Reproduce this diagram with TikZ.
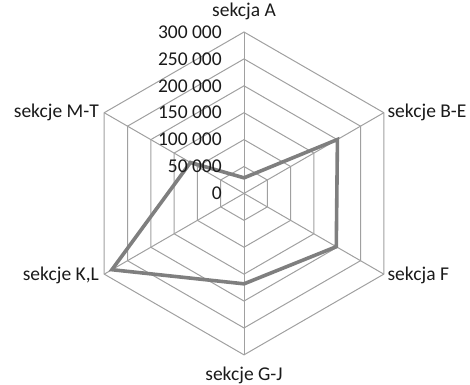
\documentclass[tikz,border=0pt]{standalone}
\usepackage{fontspec}
\setmainfont{Carlito}
\definecolor{gridgray}{HTML}{A0A0A0}
\definecolor{seriesgray}{HTML}{7F7F7F}
\definecolor{labeltext}{HTML}{1A1A1A}

\begin{document}
\begin{tikzpicture}[x=26.9pt,y=26.9pt,
  grid/.style={draw=gridgray,line width=1pt},
  series/.style={draw=seriesgray,line width=3.6pt,line join=miter},
  lbl/.style={font=\fontsize{19.5}{22}\selectfont,text=labeltext,inner sep=0pt}]
\useasboundingbox (-9.07,-7.12) rectangle (8.40,7.19);

% rings
\draw[grid] (90:1)--(30:1)--(-30:1)--(-90:1)--(210:1)--(150:1)--cycle;
\draw[grid] (90:2)--(30:2)--(-30:2)--(-90:2)--(210:2)--(150:2)--cycle;
\draw[grid] (90:3)--(30:3)--(-30:3)--(-90:3)--(210:3)--(150:3)--cycle;
\draw[grid] (90:4)--(30:4)--(-30:4)--(-90:4)--(210:4)--(150:4)--cycle;
\draw[grid] (90:5)--(30:5)--(-30:5)--(-90:5)--(210:5)--(150:5)--cycle;
\draw[grid] (90:6)--(30:6)--(-30:6)--(-90:6)--(210:6)--(150:6)--cycle;

% spokes
\coordinate (O) at (0,0);
\draw[grid] (O)--(90:6);
\draw[grid] (O)--(30:6);
\draw[grid] (O)--(-30:6);
\draw[grid] (O)--(-90:6);
\draw[grid] (O)--(210:6);
\draw[grid] (O)--(150:6);

% data
\coordinate (pA) at (90:0.58);
\coordinate (pBE) at (30:4.01);
\coordinate (pF) at (-30:3.96);
\coordinate (pGJ) at (-90:3.36);
\coordinate (pKL) at (210:5.67);
\coordinate (pMT) at (150:2.3);
\draw[series] (pA)--(pBE)--(pF)--(pGJ)--(pKL)--(pMT)--cycle;

% value axis
\node[lbl,anchor=east] (v0) at (-0.82,0) {0};
\node[lbl,anchor=east] (v50) at (-0.82,1) {50 000};
\node[lbl,anchor=east] (v100) at (-0.82,2) {100 000};
\node[lbl,anchor=east] (v150) at (-0.82,3) {150 000};
\node[lbl,anchor=east] (v200) at (-0.82,4) {200 000};
\node[lbl,anchor=east] (v250) at (-0.82,5) {250 000};
\node[lbl,anchor=east] (v300) at (-0.82,6) {300 000};

% categories
\node[lbl] (labA) at (0,6.75) {sekcja A};
\node[lbl,anchor=west] (labBE) at (5.33,3.03) {sekcje B-E};
\node[lbl,anchor=west] (labF) at (5.33,-3.03) {sekcja F};
\node[lbl] (labGJ) at (0,-6.75) {sekcje G-J};
\node[lbl,anchor=east] (labKL) at (-5.39,-3.03) {sekcje K,L};
\node[lbl,anchor=east] (labMT) at (-5.39,3.03) {sekcje M-T};
\end{tikzpicture}
\end{document}
